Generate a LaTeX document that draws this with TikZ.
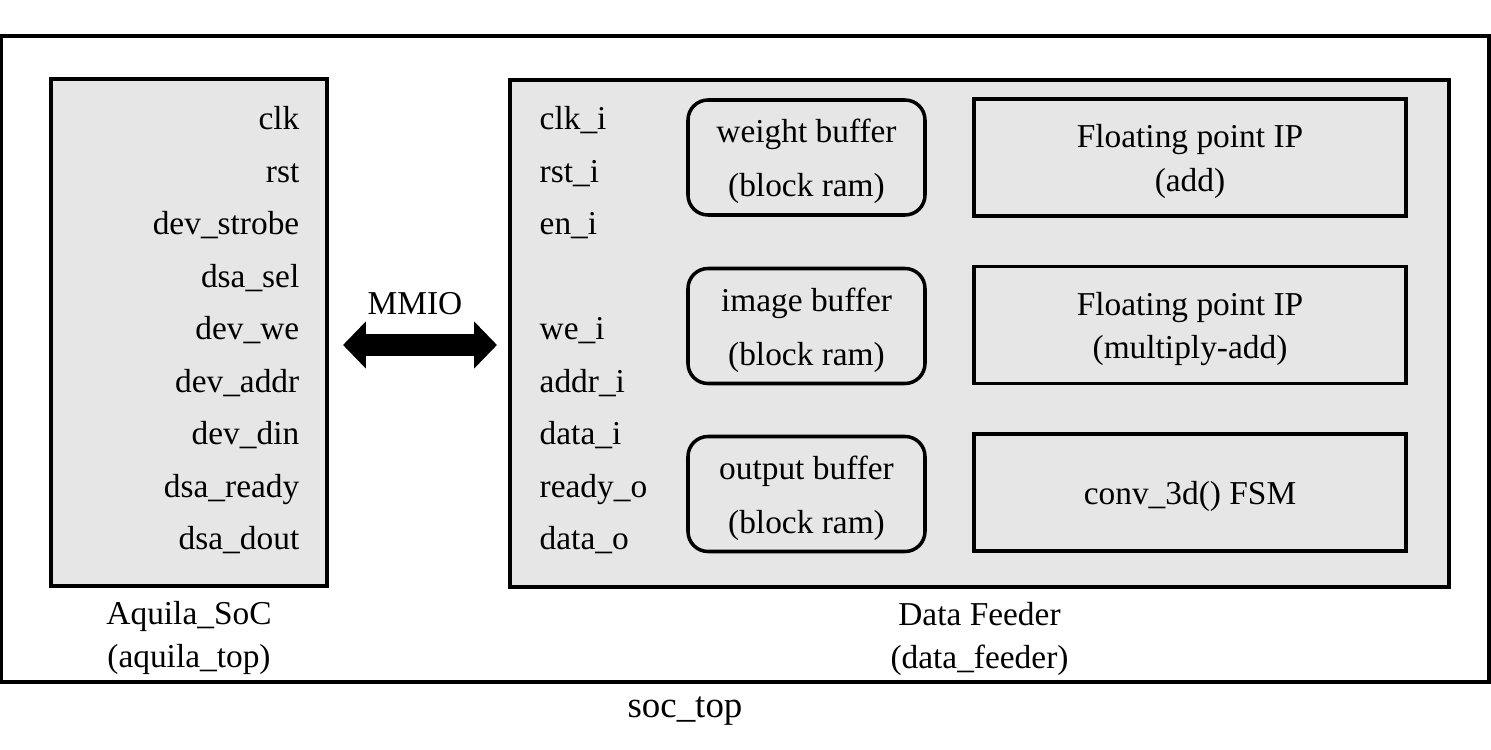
\documentclass[tikz,border=0pt]{standalone}
\usepackage{fontspec}
\setmainfont{Liberation Serif}
\usetikzlibrary{positioning}
\usetikzlibrary{arrows.meta}
\definecolor{boxgray}{HTML}{E6E6E6}

\begin{document}
\begin{tikzpicture}[
    every node/.style={font=\fontsize{9.5}{12.3}\selectfont},
    block/.style={draw=black, line width=1pt, fill=boxgray, inner sep=0pt},
    buffer/.style={block, rounded corners=0.2cm, minimum width=2.37cm, minimum height=1.15cm},
    ipbox/.style={block, minimum width=4.32cm, minimum height=1.17cm},
    inlabel/.style={align=center, yshift=-0.04cm},
    port/.style={inner sep=0pt, text height=1.5ex, text depth=0.3ex}
]
    \useasboundingbox (0,0) rectangle (14.91,7.5);
    \def\ph{0.525}
    % outer frame
    \node[draw=black, line width=1pt, minimum width=14.88cm, minimum height=6.46cm, inner sep=0pt] (soc) at (7.45,3.91) {};
    \node[font=\fontsize{10.5}{12.5}\selectfont] (socname) at (6.85,0.39) {soc\_top};

    % Aquila SoC
    \node[block, minimum width=2.76cm, minimum height=5.07cm] (aquila) at (1.89,4.175) {};
    \foreach \lab [count=\i] in {clk, rst, dev\_strobe, dsa\_sel, dev\_we, dev\_addr, dev\_din, dsa\_ready, dsa\_dout}
        \node[port, anchor=east] (ap\i) at (3.0,6.30-\ph*\i+\ph) {\lab};
    \node[below=0.1mm of aquila, align=center] (aquilaname) {Aquila\_SoC\\(aquila\_top)};

    % MMIO link
    \coordinate (mmioL) at (3.43,4.05);
    \coordinate (mmioR) at (4.97,4.05);
    \draw[line width=0.22cm, {Triangle[width=0.46cm,length=0.23cm]}-{Triangle[width=0.46cm,length=0.23cm]}] (mmioL) -- (mmioR);
    \node (mmio) at (4.15,4.46) {MMIO};

    % Data Feeder
    \node[block, minimum width=9.39cm, minimum height=5.07cm] (feeder) at (9.795,4.165) {};
    \foreach \lab/\y [count=\i] in {clk\_i/6.30, rst\_i/5.77, en\_i/5.25, we\_i/4.20, addr\_i/3.67, data\_i/3.15, ready\_o/2.62, data\_o/2.10}
        \node[port, anchor=west] (fp\i) at (5.39,\y) {\lab};
    \node[below=0.1mm of feeder, align=center] (feedername) {Data Feeder\\(data\_feeder)};

    \node[buffer, label={[inlabel]center:{weight buffer\\[3pt](block ram)}}] (wbuf) at (8.065,5.925) {};
    \node[buffer, label={[inlabel]center:{image buffer\\[3pt](block ram)}}] (ibuf) at (8.065,4.24) {};
    \node[buffer, label={[inlabel]center:{output buffer\\[3pt](block ram)}}] (obuf) at (8.065,2.56) {};

    \node[ipbox, label={[inlabel]center:{Floating point IP\\(add)}}] (fpadd) at (11.90,5.925) {};
    \node[ipbox, label={[inlabel]center:{Floating point IP\\(multiply-add)}}] (fpmac) at (11.90,4.25) {};
    \node[ipbox, label={[inlabel]center:{conv\_3d() FSM}}] (fsm) at (11.90,2.575) {};
\end{tikzpicture}
\end{document}
